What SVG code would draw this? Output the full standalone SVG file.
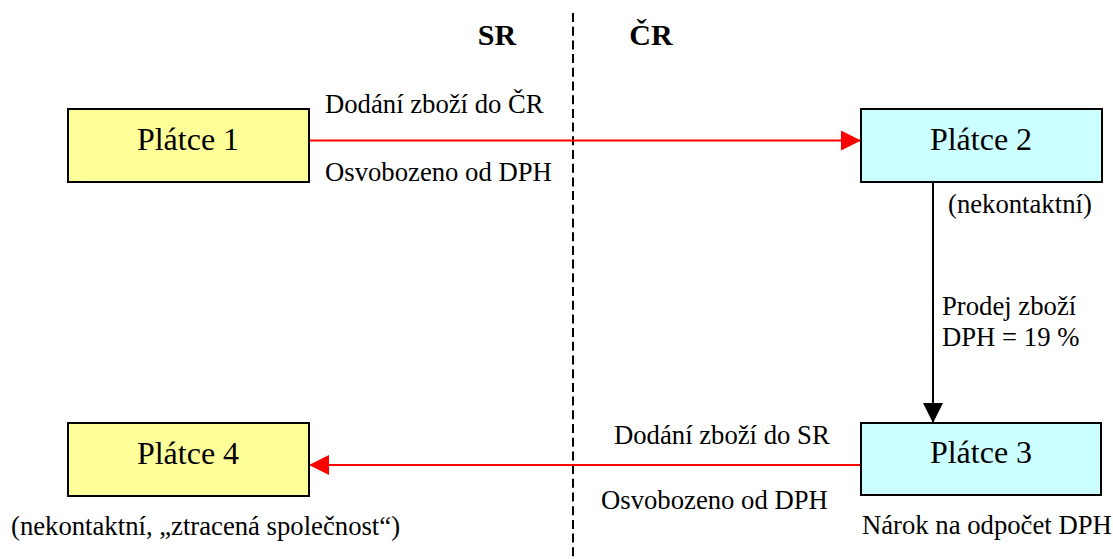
<svg xmlns="http://www.w3.org/2000/svg" width="1113" height="559" viewBox="0 0 1113 559" font-family="'Liberation Serif', 'DejaVu Serif', serif">
  <style>
    text { font-family: 'Liberation Serif', 'DejaVu Serif', serif; fill: #000; }
    .big { font-size: 32px; }
    .lbl { font-size: 26.7px; }
    .hdr { font-size: 30px; font-weight: bold; }
    .yel { fill: #FFFF99; stroke: #000; stroke-width: 2; }
    .cyan { fill: #CCFFFF; stroke: #000; stroke-width: 2; }
    .red { stroke: #FF0000; stroke-width: 2; fill: none; }
    .blk { stroke: #000; stroke-width: 2; fill: none; }
  </style>
  <defs>
    <marker id="ahRed" markerUnits="userSpaceOnUse" viewBox="0 0 20 20" refX="20" refY="10" markerWidth="20" markerHeight="20" orient="auto">
      <path d="M0,0 L20,10 L0,20 z" fill="#FF0000"/>
    </marker>
    <marker id="ahBlk" markerUnits="userSpaceOnUse" viewBox="0 0 20 20" refX="20" refY="10" markerWidth="20" markerHeight="20" orient="auto">
      <path d="M0,0 L20,10 L0,20 z" fill="#000"/>
    </marker>
  </defs>
  <rect width="1113" height="559" fill="#fff"/>

  <g id="border">
    <line x1="573" y1="13" x2="573" y2="559" stroke="#000" stroke-width="2" stroke-dasharray="9,4.7"/>
    <text class="hdr" x="497" y="45" text-anchor="middle">SR</text>
    <text class="hdr" x="651" y="45" text-anchor="middle">ČR</text>
  </g>

  <g id="connectors">
    <line class="red" x1="309" y1="140.5" x2="861" y2="140.5" marker-end="url(#ahRed)"/>
    <line class="blk" x1="933" y1="182" x2="933" y2="423" marker-end="url(#ahBlk)"/>
    <line class="red" x1="861" y1="465" x2="309" y2="465" marker-end="url(#ahRed)"/>
    <text class="lbl" x="325" y="113">Dodání zboží do ČR</text>
    <text class="lbl" x="325" y="181">Osvobozeno od DPH</text>
    <text class="lbl" x="942" y="315">Prodej zboží</text>
    <text class="lbl" x="942" y="346">DPH = 19 %</text>
    <text class="lbl" x="614" y="444">Dodání zboží do SR</text>
    <text class="lbl" x="601" y="509">Osvobozeno od DPH</text>
  </g>

  <g id="platce1">
    <rect class="yel" x="68" y="109" width="241" height="73"/>
    <text class="big" x="188" y="150" text-anchor="middle">Plátce 1</text>
  </g>
  <g id="platce2">
    <rect class="cyan" x="861" y="109" width="241" height="73"/>
    <text class="big" x="981" y="150" text-anchor="middle">Plátce 2</text>
    <text class="lbl" x="948" y="213">(nekontaktní)</text>
  </g>
  <g id="platce3">
    <rect class="cyan" x="861" y="423" width="240" height="72"/>
    <text class="big" x="981" y="463" text-anchor="middle">Plátce 3</text>
    <text class="lbl" x="862" y="534">Nárok na odpočet DPH</text>
  </g>
  <g id="platce4">
    <rect class="yel" x="68" y="423" width="241" height="73"/>
    <text class="big" x="188" y="464" text-anchor="middle">Plátce 4</text>
    <text class="lbl" x="11" y="535">(nekontaktní, „ztracená společnost“)</text>
  </g>
</svg>
